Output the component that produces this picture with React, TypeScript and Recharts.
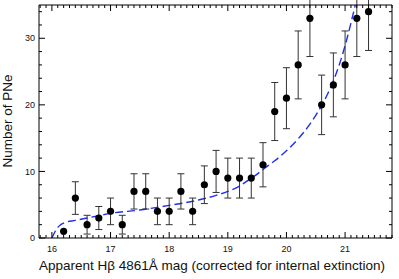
import React from 'react';
import { ComposedChart, XAxis, YAxis, Scatter, Line, ErrorBar, Label } from 'recharts';

// Observed counts per magnitude bin
const magnitudes = [16.2, 16.4, 16.6, 16.8, 17.0, 17.2, 17.4, 17.6, 17.8, 18.0, 18.2, 18.4, 18.6, 18.8, 19.0, 19.2, 19.4, 19.6, 19.8, 20.0, 20.2, 20.4, 20.6, 20.8, 21.0, 21.2, 21.4];
const counts = [1, 6, 2, 3, 4, 2, 7, 7, 4, 4, 7, 4, 8, 10, 9, 9, 9, 11, 19, 21, 26, 33, 20, 23, 26, 33, 34];
const countErrors = [0, 2.45, 1.41, 1.73, 2, 1.41, 2.65, 2.65, 2, 2, 2.65, 2, 2.83, 3.16, 3, 3, 3, 3.32, 4.36, 4.58, 5.1, 5.74, 4.47, 4.8, 5.1, 5.74, 5.83];

// Fitted luminosity function (dashed curve)
const fitMag = [16.0, 16.05, 16.1, 16.15, 16.2, 16.4, 16.6, 16.8, 17.0, 17.5, 18.0, 18.5, 18.8, 19.0, 19.2, 19.4, 19.5, 19.6, 19.8, 20.0, 20.2, 20.4, 20.6, 20.7, 20.8, 20.9, 21.0, 21.1, 21.2];
const fitCount = [0, 0.9, 1.6, 2.0, 2.25, 2.65, 3.0, 3.35, 3.7, 4.2, 4.9, 5.7, 6.4, 7.0, 7.8, 9.0, 9.6, 10.3, 11.6, 13.1, 14.9, 17.1, 19.9, 21.6, 23.6, 26.0, 28.9, 32.3, 36.0];

const majorXTicks = [16, 17, 18, 19, 20, 21];
const majorYTicks = [0, 10, 20, 30];
const xDomain: [number, number] = [15.78, 21.8];
const yDomain: [number, number] = [0, 35];

const xLabel = 'Apparent H\u03B2 4861\u00C5 mag (corrected for internal extinction)';
const yLabel = 'Number of PNe';

const points = magnitudes.map((m, i) => ({ x: m, y: counts[i], err: countErrors[i] }));
const fit = fitMag.map((m, i) => ({ x: m, y: fitCount[i] }));

const allXTicks: number[] = [];
for (let i = 158; i <= 218; i++) allXTicks.push(i / 10);
const allYTicks: number[] = [];
for (let i = 0; i <= 34; i += 2) allYTicks.push(i);

const isMajor = (v: number, majors: number[]) => majors.some((m) => Math.abs(m - v) < 1e-6);

const FONT = '"Liberation Sans", Arial, Helvetica, sans-serif';
const MAJ = 6;
const MIN = 3;

const BottomTick = (p: any) => {
  const v = p.payload.value;
  const major = isMajor(v, majorXTicks);
  return (
    <g>
      <line x1={p.x} x2={p.x} y1={p.y} y2={p.y - (major ? MAJ : MIN)} stroke="#000" strokeWidth={1} />
      {major && (
        <text x={p.x} y={p.y + 13.5} textAnchor="middle" fontSize={9} fill="#111" fontFamily={FONT}>
          {v}
        </text>
      )}
    </g>
  );
};
const TopTick = (p: any) => {
  const v = p.payload.value;
  const major = isMajor(v, majorXTicks);
  return <line x1={p.x} x2={p.x} y1={p.y} y2={p.y + (major ? MAJ : MIN)} stroke="#000" strokeWidth={1} />;
};
const LeftTick = (p: any) => {
  const v = p.payload.value;
  const major = isMajor(v, majorYTicks);
  return (
    <g>
      <line x1={p.x} x2={p.x + (major ? MAJ : MIN)} y1={p.y} y2={p.y} stroke="#000" strokeWidth={1} />
      {major && (
        <text x={p.x - 4} y={p.y + 3.2} textAnchor="end" fontSize={9} fill="#111" fontFamily={FONT}>
          {v}
        </text>
      )}
    </g>
  );
};
const RightTick = (p: any) => {
  const v = p.payload.value;
  const major = isMajor(v, majorYTicks);
  return <line x1={p.x} x2={p.x - (major ? MAJ : MIN)} y1={p.y} y2={p.y} stroke="#000" strokeWidth={1} />;
};

const Dot = (p: any) => <circle cx={p.cx} cy={p.cy} r={3.6} fill="#000" />;

export default function App() {
  return (
    <div style={{ position: 'absolute', left: 0, top: 0, width: 399, height: 279, background: '#fff' }}>
      <ComposedChart width={399} height={279} margin={{ top: 0, right: 0, bottom: 0, left: 0 }}>
        <XAxis
          xAxisId="bottom"
          orientation="bottom"
          type="number"
          dataKey="x"
          domain={xDomain}
          allowDataOverflow
          ticks={allXTicks}
          interval={0}
          tick={BottomTick}
          tickLine={false}
          tickSize={0}
          tickMargin={0}
          height={41}
          axisLine={{ stroke: '#000', strokeWidth: 1 }}
        >
          <Label
            content={(lp: any) => (
              <text
                x={(lp.viewBox?.x ?? 39) + (lp.viewBox?.width ?? 353) / 2 - 3.5}
                y={269.5}
                textAnchor="middle"
                fontSize={13.5}
                fill="#111"
                fontFamily={FONT}
              >
                {xLabel}
              </text>
            )}
          />
        </XAxis>
        <XAxis
          xAxisId="top"
          orientation="top"
          type="number"
          dataKey="x"
          domain={xDomain}
          allowDataOverflow
          ticks={allXTicks}
          interval={0}
          tick={TopTick}
          tickLine={false}
          tickSize={0}
          tickMargin={0}
          height={5}
          axisLine={{ stroke: '#000', strokeWidth: 1 }}
        />
        <YAxis
          yAxisId="left"
          orientation="left"
          type="number"
          dataKey="y"
          domain={yDomain}
          allowDataOverflow
          ticks={allYTicks}
          interval={0}
          tick={LeftTick}
          tickLine={false}
          tickSize={0}
          tickMargin={0}
          width={39}
          axisLine={{ stroke: '#000', strokeWidth: 1 }}
        >
          <Label
            content={() => (
              <text
                x={12}
                y={121}
                transform="rotate(-90 12 121)"
                textAnchor="middle"
                fontSize={13.5}
                fill="#111"
                fontFamily={FONT}
              >
                {yLabel}
              </text>
            )}
          />
        </YAxis>
        <YAxis
          yAxisId="right"
          orientation="right"
          type="number"
          dataKey="y"
          domain={yDomain}
          allowDataOverflow
          ticks={allYTicks}
          interval={0}
          tick={RightTick}
          tickLine={false}
          tickSize={0}
          tickMargin={0}
          width={7}
          axisLine={{ stroke: '#000', strokeWidth: 1 }}
        />
        <Line
          xAxisId="top"
          yAxisId="right"
          data={fit}
          dataKey="y"
          type="monotone"
          stroke="#1f2ef0"
          strokeWidth={1.4}
          strokeDasharray="8 4"
          dot={false}
          activeDot={false}
          isAnimationActive={false}
        />
        <Scatter
          xAxisId="bottom"
          yAxisId="left"
          data={points}
          dataKey="y"
          shape={Dot}
          isAnimationActive={false}
        >
          <ErrorBar dataKey="err" direction="y" width={3.5} stroke="#333" strokeWidth={1} />
        </Scatter>
      </ComposedChart>
    </div>
  );
}
